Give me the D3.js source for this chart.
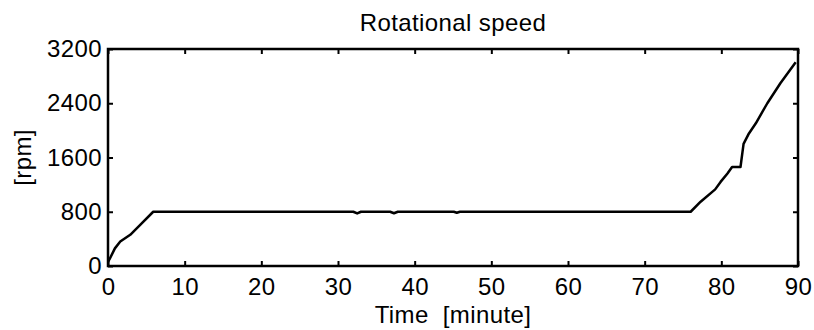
<!DOCTYPE html>
<html>
<head>
<meta charset="utf-8">
<script src="https://cdn.jsdelivr.net/npm/d3@7"></script>
<style>
  body { margin: 0; background: #fff; }
  text { font-family: "Liberation Sans", Arial, sans-serif; fill: #000; }
</style>
</head>
<body>
<svg width="814" height="330"></svg>
<script>
const svg = d3.select("svg"),
    width = +svg.attr("width"),
    height = +svg.attr("height");

// time [minute] and speed [rpm]
const time = [0, 0.2, 0.9, 1.6, 2.9, 4.2, 5.9, 10, 20, 30, 32.0, 32.5, 33.0, 36.8, 37.3, 37.8, 45.1, 45.5, 45.9, 55, 65, 75, 76.0, 77.3, 79.2, 79.9, 80.8, 81.4, 82.5, 82.9, 83.6, 84.5, 86.0, 87.7, 89.7];
const speed = [60, 100, 260, 360, 460, 605, 800, 800, 800, 800, 800, 775, 800, 800, 778, 800, 800, 785, 800, 800, 800, 800, 800, 948, 1130, 1240, 1365, 1460, 1460, 1800, 1955, 2105, 2400, 2695, 3005];

const xTicks = [0, 10, 20, 30, 40, 50, 60, 70, 80, 90];
const yTicks = [0, 800, 1600, 2400, 3200];

const margin = {left: 108, right: 16, top: 49, bottom: 64};

const x = d3.scaleLinear().domain([0, 90]).range([margin.left, width - margin.right]);
const y = d3.scaleLinear().domain([0, 3200]).range([height - margin.bottom, margin.top]);

const fontSize = 24;
const spacing = "0.4px";

// axes with inward ticks
svg.append("g")
    .attr("transform", `translate(0,${y(0)})`)
    .call(d3.axisBottom(x).tickValues(xTicks).tickFormat(d3.format("d")).tickSizeInner(-5).tickSizeOuter(0).tickPadding(12))
    .call(g => g.select(".domain").remove());
svg.append("g")
    .attr("transform", `translate(${x(0)},0)`)
    .call(d3.axisLeft(y).tickValues(yTicks).tickFormat(d3.format("d")).tickSizeInner(-5).tickSizeOuter(0).tickPadding(6))
    .call(g => g.select(".domain").remove());
svg.append("g")
    .attr("transform", `translate(0,${y(3200)})`)
    .call(d3.axisTop(x).tickValues(xTicks).tickSizeInner(-5).tickSizeOuter(0).tickFormat(""))
    .call(g => g.select(".domain").remove());
svg.append("g")
    .attr("transform", `translate(${x(90)},0)`)
    .call(d3.axisRight(y).tickValues(yTicks).tickSizeInner(-5).tickSizeOuter(0).tickFormat(""))
    .call(g => g.select(".domain").remove());

svg.selectAll(".tick line").attr("stroke", "#000").attr("stroke-width", 2);
svg.selectAll(".tick text")
    .attr("font-size", fontSize)
    .attr("letter-spacing", spacing)
    .attr("font-family", "Liberation Sans, Arial, sans-serif")
    .attr("fill", "#000");

// plot box
svg.append("rect")
    .attr("x", x(0)).attr("y", y(3200))
    .attr("width", x(90) - x(0)).attr("height", y(0) - y(3200))
    .attr("fill", "none").attr("stroke", "#000").attr("stroke-width", 2.5);

const line = d3.line()
    .x((d, i) => x(time[i]))
    .y(d => y(d));

svg.append("path")
    .datum(speed)
    .attr("fill", "none")
    .attr("stroke", "#000")
    .attr("stroke-width", 2.5)
    .attr("stroke-linejoin", "round")
    .attr("d", line);

svg.append("text")
    .attr("x", (x(0) + x(90)) / 2).attr("y", 31)
    .attr("text-anchor", "middle").attr("font-size", fontSize)
    .attr("letter-spacing", spacing)
    .text("Rotational speed");

svg.append("text")
    .attr("x", (x(0) + x(90)) / 2).attr("y", 323)
    .attr("text-anchor", "middle").attr("font-size", fontSize)
    .attr("letter-spacing", spacing)
    .attr("xml:space", "preserve")
    .text("Time  [minute]");

svg.append("text")
    .attr("transform", `translate(31,${(y(0) + y(3200)) / 2}) rotate(-90)`)
    .attr("text-anchor", "middle").attr("font-size", fontSize)
    .attr("letter-spacing", spacing)
    .text("[rpm]");
</script>
</body>
</html>
